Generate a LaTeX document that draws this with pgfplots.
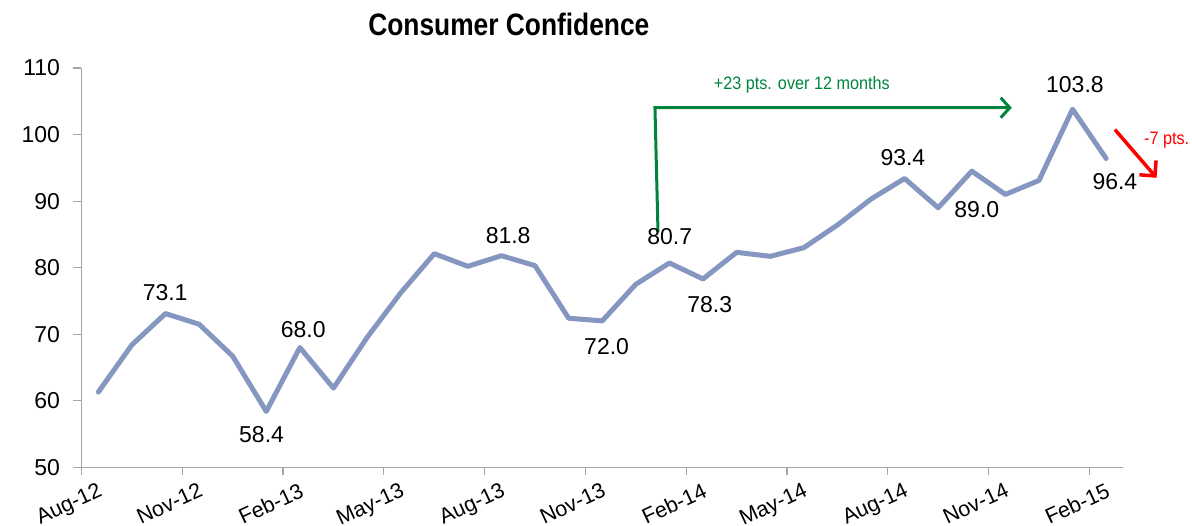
\documentclass[border=0pt]{standalone}
\usepackage{pgfplots}
\pgfplotsset{compat=1.18}
\usepackage{fontspec}
\setmainfont{Liberation Sans}
\usepackage{graphicx}
\usetikzlibrary{arrows.meta}
\definecolor{linec}{RGB}{133,151,192}
\definecolor{axc}{RGB}{166,166,166}
\definecolor{grn}{RGB}{0,132,61}
\definecolor{redc}{RGB}{255,0,0}
\pgfplotstableread{
x y
0.5 61.3
1.5 68.4
2.5 73.1
3.5 71.5
4.5 66.7
5.5 58.4
6.5 68.0
7.5 61.9
8.5 69.5
9.5 76.2
10.5 82.1
11.5 80.2
12.5 81.8
13.5 80.3
14.5 72.4
15.5 72.0
16.5 77.5
17.5 80.7
18.5 78.3
19.5 82.3
20.5 81.7
21.5 83.0
22.5 86.4
23.5 90.3
24.5 93.4
25.5 89.0
26.5 94.5
27.5 91.0
28.5 93.1
29.5 103.8
30.5 96.4
}\conf
\newcommand{\lab}{\fontsize{23}{23}\selectfont}
\begin{document}
\begin{tikzpicture}
\begin{axis}[
  scale only axis, width=1041.5pt, height=399.3pt,
  xmin=0, xmax=31, ymin=50, ymax=110,
  axis x line*=bottom, axis y line*=left,
  axis line style={draw=axc, line width=1.5pt},
  xtick={0,3,...,30},
  xticklabels={Aug-12,Nov-12,Feb-13,May-13,Aug-13,Nov-13,Feb-14,May-14,Aug-14,Nov-14,Feb-15},
  ytick={50,60,...,110},
  tick align=outside, major tick length=8pt,
  tick style={draw=axc, line width=1.2pt},
  yticklabel style={font=\lab, xshift=-10pt},
  xticklabel style={font=\fontsize{21.5}{21.5}\selectfont, xshift=17pt, yshift=-2pt, anchor=north east, rotate=25},
  /pgf/number format/assume math mode=true,
  clip=false,
]
\addplot[color=linec, line width=5pt, line join=round, line cap=round, no marks] table[x=x,y=y] {\conf};

\node[font=\lab] at (axis cs:2.49,76.2) {73.1};
\node[font=\lab] at (axis cs:6.6,70.65) {68.0};
\node[font=\lab] at (axis cs:5.36,54.86) {58.4};
\node[font=\lab] at (axis cs:12.70,84.78) {81.8};
\node[font=\lab] at (axis cs:15.63,68.14) {72.0};
\node[font=\lab] at (axis cs:18.70,74.4) {78.3};
\node[font=\lab] at (axis cs:24.45,96.5) {93.4};
\node[font=\lab] at (axis cs:26.65,88.7) {89.0};
\node[font=\lab] at (axis cs:29.57,107.5) {103.8};
\node[font=\lab] at (axis cs:30.76,92.9) {96.4};

\draw[grn, line width=3pt, -{Straight Barb[length=9pt,width=20pt]}]
  (axis cs:17.16,85.38) -- (axis cs:17.07,104.03) -- (axis cs:27.69,104.03);
\node[font=\lab] at (axis cs:17.51,84.68) {80.7};
\node[text=grn] at (axis cs:21.44,107.5) {\scalebox{0.9}[1]{\fontsize{18}{18}\selectfont +23 pts. over 12 months}};

\draw[redc, line width=3.5pt, -{Straight Barb[length=11pt,width=22pt]}]
  (axis cs:30.76,100.75) -- (axis cs:32.0,93.5);
\node[text=redc] at (axis cs:32.3,99.2) {\scalebox{0.9}[1]{\fontsize{18}{18}\selectfont -7 pts.}};

\node at (axis cs:12.72,116.5) {\scalebox{0.85}[1]{\fontsize{31}{31}\selectfont\bfseries Consumer Confidence}};
\end{axis}
\pgfresetboundingbox
\path[use as bounding box] (-81.5pt,-58pt) rectangle (1110.5pt,467.3pt);
\end{tikzpicture}
\end{document}
